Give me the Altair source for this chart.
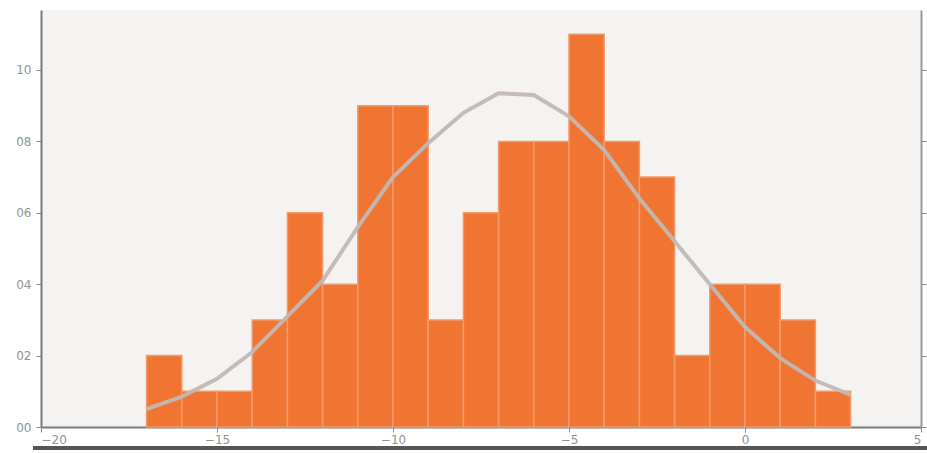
import altair as alt
import pandas as pd

# Histogram (density) bins, width 1, from -17 to 3
bin_start = [-17, -16, -15, -14, -13, -12, -11, -10, -9, -8,
             -7, -6, -5, -4, -3, -2, -1, 0, 1, 2]
density = [0.02, 0.01, 0.01, 0.03, 0.06, 0.04, 0.09, 0.09, 0.03, 0.06,
           0.08, 0.08, 0.11, 0.08, 0.07, 0.02, 0.04, 0.04, 0.03, 0.01]

# Fitted curve read at integer positions
curve_x = [-17, -16, -15, -14, -13, -12, -11, -10, -9, -8, -7,
           -6, -5, -4, -3, -2, -1, 0, 1, 2, 3]
curve_y = [0.005, 0.0085, 0.0135, 0.021, 0.031, 0.041, 0.056, 0.070, 0.0795, 0.088, 0.0935,
           0.093, 0.087, 0.0776, 0.064, 0.052, 0.040, 0.028, 0.0193, 0.013, 0.009]

bars = pd.DataFrame({"x": bin_start, "x2": [b + 1 for b in bin_start], "d": density})
curve = pd.DataFrame({"x": curve_x, "y": curve_y})

xs = alt.Scale(domain=[-20, 5], nice=False, zero=False)
ys = alt.Scale(domain=[0, 0.1168], nice=False)

axis_common = dict(domainColor="#7a7a7a", domainWidth=2, tickColor="#8a8a8a",
                   tickSize=5, labelColor="#929292", labelFont="DejaVu Sans",
                   labelFontSize=12, grid=False, title=None)

bar_layer = alt.Chart(bars).mark_rect(
    color="#f07532", stroke="#f49a68", strokeWidth=1.5
).encode(
    x=alt.X("x:Q", scale=xs, axis=alt.Axis(values=[-20, -15, -10, -5, 0, 5],
                                          labelExpr="replace(format(datum.value, 'd'), '-', '\u2212')",
                                          labelPadding=2, **axis_common)),
    x2="x2:Q",
    y=alt.Y("d:Q", scale=ys, axis=alt.Axis(values=[0, 0.02, 0.04, 0.06, 0.08, 0.10],
                                          labelExpr="replace(format(datum.value, '.2f'), '0.', '')",
                                          labelPadding=5, **axis_common)),
    y2=alt.datum(0),
)

line_layer = alt.Chart(curve).mark_line(
    color="#c2b7b3", strokeWidth=4, opacity=0.95
).encode(
    x=alt.X("x:Q", scale=xs),
    y=alt.Y("y:Q", scale=ys, axis=alt.Axis(orient="right", values=[0, 0.02, 0.04, 0.06, 0.08, 0.10],
                                           labels=False, domainColor="#9a9a9a", domainWidth=2,
                                           tickColor="#8a8a8a", tickSize=5, grid=False, title=None)),
)

base_rule = alt.Chart(pd.DataFrame({"k": [0]})).mark_rule(
    color="#555555", strokeWidth=4
).encode(x=alt.value(-8), x2=alt.value(890), y=alt.value(438))

chart = alt.layer(bar_layer, line_layer, base_rule).resolve_axis(y="independent").properties(
    width=880, height=417,
    autosize=alt.AutoSizeParams(type="none"),
    padding={"left": 41, "top": 10, "right": 6, "bottom": 26},
    background="#ffffff",
).configure_view(fill="#f5f3f1", stroke=None)

chart.save("out.html", embed_options={"renderer": "svg", "actions": False})
